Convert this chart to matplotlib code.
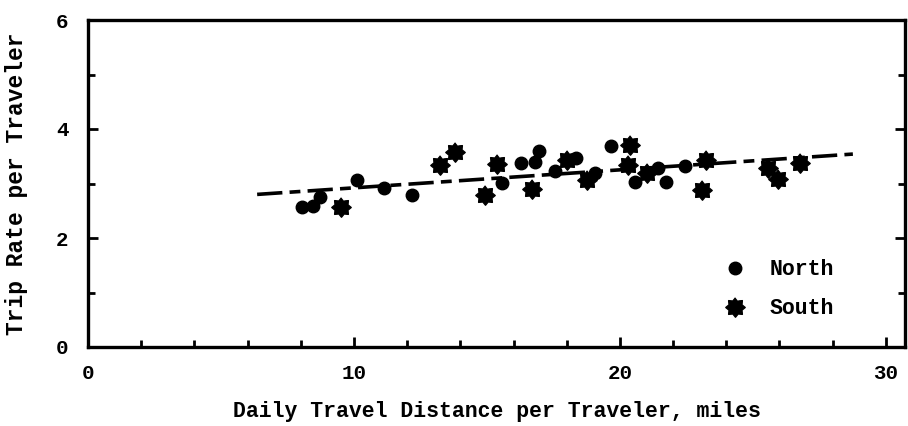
import numpy as np
import matplotlib
matplotlib.use("Agg")
import matplotlib.pyplot as plt
from matplotlib.lines import Line2D

# Data
north_x = [8.05, 8.46, 8.71, 10.10, 11.14, 12.2, 15.58, 16.3, 16.8, 16.96,
           17.55, 18.35, 19.07, 19.68, 20.57, 21.42, 21.75, 22.45]
north_y = [2.57, 2.59, 2.75, 3.06, 2.92, 2.78, 3.01, 3.37, 3.40, 3.60,
           3.23, 3.47, 3.19, 3.68, 3.03, 3.29, 3.03, 3.32]

south_x = [9.53, 13.22, 13.8, 14.93, 15.37, 16.71, 18.0, 18.76, 20.3, 20.37,
           21.02, 23.07, 23.25, 25.58, 25.94, 26.76]
south_y = [2.56, 3.34, 3.57, 2.79, 3.35, 2.89, 3.43, 3.06, 3.34, 3.71,
           3.19, 2.88, 3.43, 3.28, 3.09, 3.37]

# Fitted trend line end points
trend_x = [6.36, 28.76]
trend_y = [2.80, 3.54]

x_ticks = [0, 10, 20, 30]
y_ticks = [0, 2, 4, 6]

font = "Liberation Mono"
plt.rcParams["font.family"] = [font, "DejaVu Sans Mono"]
plt.rcParams["font.weight"] = "bold"

# Gear-like star marker (8 points, fat inner radius)
n = 8
ang = np.linspace(0, 2 * np.pi, 2 * n, endpoint=False) + np.pi / 2
rad = np.where(np.arange(2 * n) % 2 == 0, 1.0, 0.72)
star = list(zip(rad * np.cos(ang), rad * np.sin(ang)))

fig = plt.figure(figsize=(9.08, 4.26), dpi=100)
ax = fig.add_axes([88 / 908, 79 / 426, 817 / 908, 327 / 426])

ax.plot(trend_x, trend_y, color="black", lw=2.6,
        linestyle=(0, (7, 2, 3, 2)), solid_capstyle="round", zorder=2)
ax.plot(north_x, north_y, "o", color="black", ms=9, zorder=3)
ax.plot(south_x, south_y, linestyle="none", marker=star, color="black",
        ms=14, zorder=3)

ax.set_xlim(0, 30.72)
ax.set_ylim(0, 6)
ax.set_xticks(x_ticks)
ax.set_yticks(y_ticks)
ax.set_xticks(np.arange(0, 31, 2), minor=True)
ax.set_yticks(np.arange(0, 7, 1), minor=True)

ax.tick_params(axis="both", which="major", direction="in", length=7,
               width=2, labelsize=15, pad=12, right=True)
ax.tick_params(axis="both", which="minor", direction="in", length=5,
               width=2, right=True)
ax.tick_params(axis="y", which="major", pad=14)
for s in ax.spines.values():
    s.set_linewidth(2.4)

ax.set_xlabel("Daily Travel Distance per Traveler, miles", fontsize=15.5,
              fontweight="bold", labelpad=13)
ax.set_ylabel("Trip Rate per Traveler", fontsize=16.5, fontweight="bold",
              labelpad=20)

handles = [
    Line2D([], [], linestyle="none", marker="o", color="black", ms=9),
    Line2D([], [], linestyle="none", marker=star, color="black", ms=14),
]
ax.legend(handles, ["North", "South"], frameon=False, loc="lower left",
          bbox_to_anchor=(0.755, 0.025), fontsize=15.5, handlelength=1.0,
          handletextpad=1.1, labelspacing=0.85)

fig.savefig("out.png", dpi=100)
